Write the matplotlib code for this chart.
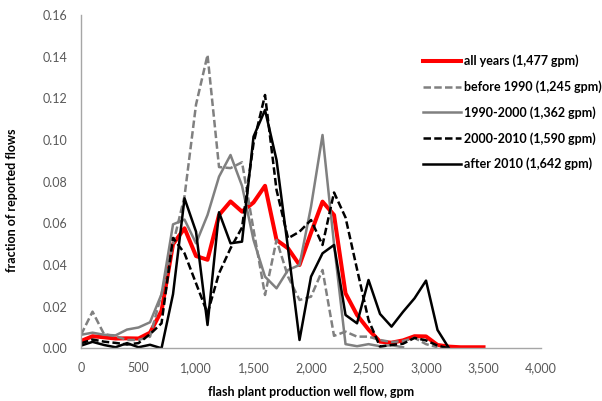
import matplotlib
matplotlib.use("Agg")
import matplotlib.pyplot as plt
import numpy as np

plt.rcParams['font.family'] = ['Lato', 'DejaVu Sans']

# flow bins, gpm
flow = list(range(0, 3600, 100))

all_years = [0.0035, 0.0058, 0.0053, 0.0047, 0.0048, 0.0047, 0.0075, 0.018, 0.050, 0.0576,
             0.0443, 0.0425, 0.064, 0.0705, 0.0656, 0.070, 0.078, 0.052, 0.048, 0.040,
             0.0555, 0.0704, 0.064, 0.0264, 0.016, 0.009, 0.0032, 0.0027, 0.0038, 0.0058,
             0.0057, 0.0016, 0.0008, 0.0005, 0.0005, 0.0005]
before_1990 = [0.0065, 0.0176, 0.0068, 0.0058, 0.004, 0.004, 0.0056, 0.026, 0.050, 0.073,
               0.117, 0.1408, 0.087, 0.0865, 0.0893, 0.057, 0.0256, 0.052, 0.0344, 0.0232,
               0.0248, 0.0376, 0.006, 0.008, 0.0056, 0.0056, 0.004, 0.003, 0.0035, 0.005,
               0.002, 0.0005]
y1990_2000 = [0.0065, 0.0075, 0.0065, 0.0062, 0.009, 0.010, 0.0125, 0.026, 0.0595, 0.0618,
              0.0504, 0.064, 0.0824, 0.0928, 0.078, 0.052, 0.0344, 0.0288, 0.0376, 0.040,
              0.068, 0.1024, 0.050, 0.002, 0.001, 0.002, 0.001, 0.0015, 0.0005]
y2000_2010 = [0.0024, 0.0042, 0.0032, 0.0026, 0.0018, 0.0025, 0.0068, 0.012, 0.053, 0.0456,
              0.0312, 0.0168, 0.036, 0.048, 0.058, 0.0984, 0.1216, 0.076, 0.0528, 0.056,
              0.0616, 0.0496, 0.0748, 0.0628, 0.038, 0.0136, 0.0008, 0.0016, 0.0022, 0.005,
              0.0038, 0.0013, 0.0]
after_2010 = [0.0013, 0.0031, 0.0016, 0.0005, 0.0025, 0.0005, 0.0017, 0.0, 0.026, 0.072,
              0.056, 0.0112, 0.0653, 0.0504, 0.0512, 0.1016, 0.1144, 0.0904, 0.048, 0.004,
              0.0344, 0.0456, 0.0496, 0.016, 0.012, 0.0328, 0.0165, 0.0104, 0.0175, 0.024,
              0.0325, 0.0088, 0.0]

labels = ["all years (1,477 gpm)", "before 1990 (1,245 gpm)", "1990-2000 (1,362 gpm)",
          "2000-2010 (1,590 gpm)", "after 2010 (1,642 gpm)"]

grey = "#808080"
dash = (3.0, 1.3)

fig = plt.figure(figsize=(6.02, 4.01), dpi=100)
ax = fig.add_axes([0.1346, 0.1314, 0.7641, 0.8312])

ax.plot(flow[:len(all_years)], all_years, color="#FF0000", lw=2.9, label=labels[0])
ax.plot(flow[:len(before_1990)], before_1990, color=grey, lw=1.8, dashes=dash, label=labels[1])
ax.plot(flow[:len(y1990_2000)], y1990_2000, color=grey, lw=1.8, label=labels[2])
ax.plot(flow[:len(y2000_2010)], y2000_2010, color="black", lw=1.8, dashes=dash, label=labels[3])
ax.plot(flow[:len(after_2010)], after_2010, color="black", lw=1.8, label=labels[4])

ax.set_xlim(0, 4000)
ax.set_ylim(0, 0.16)
ax.set_xticks(np.arange(0, 4001, 500))
ax.set_xticklabels([f"{v:,}" for v in range(0, 4001, 500)])
ax.set_yticks(np.arange(0, 0.161, 0.02))
ax.set_yticklabels([f"{v:.2f}" for v in np.arange(0, 0.161, 0.02)])
ax.tick_params(length=0, labelsize=9, colors="#595959", pad=10)

for s in ["top", "right"]:
    ax.spines[s].set_visible(False)
for s in ["left", "bottom"]:
    ax.spines[s].set_color("#A6A6A6")
    ax.spines[s].set_linewidth(1.0)

ax.set_xlabel("flash plant production well flow, gpm", fontsize=9, fontweight="bold")
ax.set_ylabel("fraction of reported flows", fontsize=9, fontweight="bold")
ax.xaxis.set_label_coords(0.5, -0.112)
ax.yaxis.set_label_coords(-0.137, 0.445)

leg = fig.legend(loc="upper left", bbox_to_anchor=(0.703, 0.864), frameon=False,
                 prop={"size": 9, "weight": "bold"}, handlelength=3.0,
                 handletextpad=0.3, labelspacing=1.05, borderpad=0, borderaxespad=0)

fig.savefig("out.png", dpi=100)
